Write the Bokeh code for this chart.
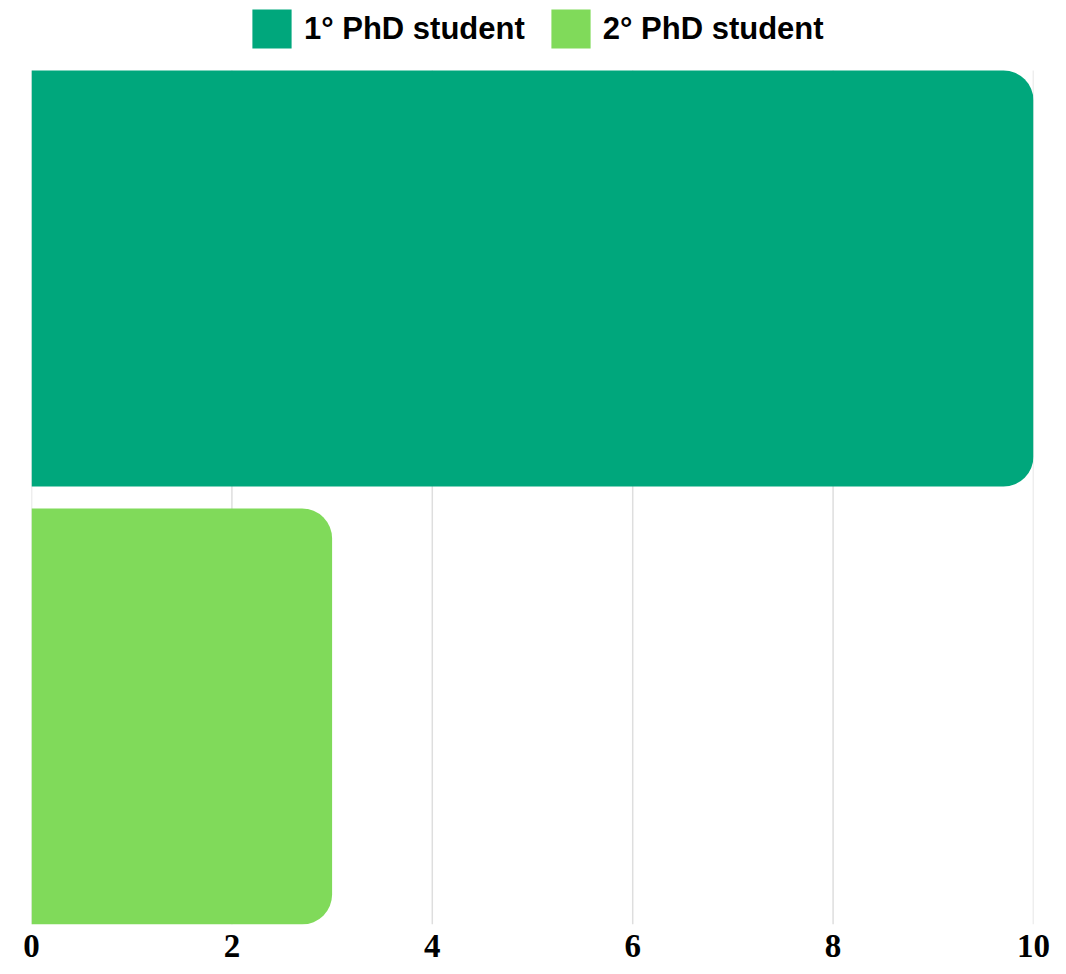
from bokeh.plotting import figure
from bokeh.models import ColumnDataSource, Range1d, Legend, LegendItem, FixedTicker
from bokeh.embed import file_html
from bokeh.resources import INLINE

categories = ["1° PhD student", "2° PhD student"]
values = [10, 3]
colors = ["#00A77C", "#80DA5A"]
x_ticks = [0, 2, 4, 6, 8, 10]

n = len(categories)
ypos = [n - i - 0.5 for i in range(n)]
bar_h = 0.95
y_lo = (1 - bar_h) / 2
y_hi_bars = n - y_lo
px_per_unit = 438.0
frame_h = 924

src = ColumnDataSource(dict(y=ypos, v=values, c=colors, label=categories))

p = figure(width=1058, height=966, output_backend="svg", toolbar_location=None,
           x_range=Range1d(0, 10), y_range=Range1d(y_lo, y_lo + frame_h / px_per_unit),
           min_border_left=31, min_border_right=25, min_border_top=0, min_border_bottom=42)
p.outline_line_color = None
p.background_fill_color = "white"
p.border_fill_color = "white"
p.xgrid.visible = False
p.ygrid.visible = False

# grid lines limited to the bar area
p.segment(x0=x_ticks, x1=x_ticks, y0=[y_lo] * len(x_ticks), y1=[y_hi_bars] * len(x_ticks),
          line_color="#dedede", line_width=1.5)

r = p.hbar(y="y", left=0, right="v", height=bar_h, fill_color="c", line_color=None,
           border_radius=(0, 30, 30, 0), source=src)

p.xaxis.ticker = FixedTicker(ticks=x_ticks)
p.xaxis.axis_line_color = None
p.xaxis.major_tick_line_color = None
p.xaxis.minor_tick_line_color = None
p.xaxis.major_label_text_font = "Liberation Serif"
p.xaxis.major_label_text_font_style = "bold"
p.xaxis.major_label_text_font_size = "33px"
p.xaxis.major_label_text_color = "#000000"
p.xaxis.major_label_standoff = 4
p.yaxis.visible = False

items = [LegendItem(label=categories[i], renderers=[r], index=i) for i in range(n)]
legend = Legend(items=items, orientation="horizontal", location=(216, frame_h - 53),
                glyph_width=49, glyph_height=49, label_standoff=8, spacing=21,
                padding=0, margin=0, border_line_color=None, background_fill_alpha=0,
                label_text_font="Liberation Sans", label_text_font_style="bold",
                label_text_font_size="31px", label_text_color="#000000",
                label_height=49)
p.add_layout(legend, "center")

open("out.html", "w").write(file_html(p, INLINE))
